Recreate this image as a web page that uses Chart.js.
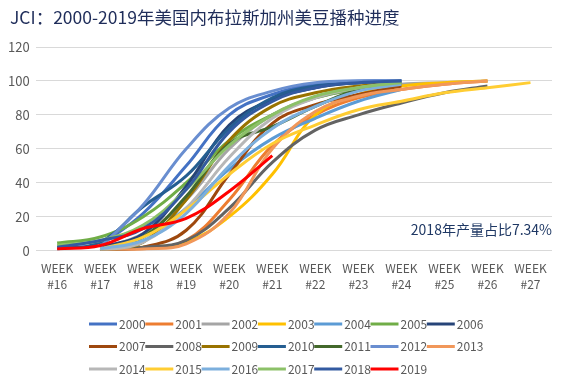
<!DOCTYPE html>
<html><head><meta charset="utf-8">
<script src="https://cdn.jsdelivr.net/npm/chart.js@4/dist/chart.umd.min.js"></script>
<style>html,body{margin:0;padding:0;background:#fff}#wrap{width:566px;height:385px;position:relative}</style>
</head><body><div id="wrap"><canvas id="c" width="566" height="385"></canvas></div>
<script>
const weeks = ['WEEK #16','WEEK #17','WEEK #18','WEEK #19','WEEK #20','WEEK #21','WEEK #22','WEEK #23','WEEK #24','WEEK #25','WEEK #26','WEEK #27'];
const years = ['2000','2001','2002','2003','2004','2005','2006','2007','2008','2009','2010','2011','2012','2013','2014','2015','2016','2017','2018','2019'];
const yTicks = [0, 20, 40, 60, 80, 100, 120];

const s2000 = [null, 3, 22, 50, 80, 92, 98, 100, 100, null, null, null];
const s2001 = [null, 0, 1, 6, 30, 62, 80, 90, 95, 98, 100, null];
const s2002 = [null, 1, 10, 30, 60, 80, 90, 95, 98, 99, 100, null];
const s2003 = [null, 0, 2, 5, 20, 45, 80, 92, 97, 99, 100, null];
const s2004 = [null, 1, 8, 25, 48, 66, 78, 88, 95, null, null, null];
const s2005 = [4.5, 8, 20, 40, 65, 80, 90, 95, 98, null, null, null];
const s2006 = [null, 2, 10, 38, 74, 89, 96, 99, 100, null, null, null];
const s2007 = [null, 0, 2, 12, 45, 75, 86, 92, 97, null, null, null];
const s2008 = [null, 0, 2, 6, 25, 52, 71, 80, 87, 93, 97, null];
const s2009 = [null, 0, 5, 30, 65, 85, 93, 97, 99, null, null, null];
const s2010 = [1, 5, 26, 44, 72, 90, 97, 99, 100, null, null, null];
const s2011 = [null, 0, 8, 32, 63, 73, 85, 95, 99, null, null, null];
const s2012 = [null, 2, 27, 60, 84, 94, 99, 100, 100, null, null, null];
const s2013 = [null, 0, 1, 4, 22, 60, 82, 91, 95, 98, 100, null];
const s2014 = [null, 0, 5, 25, 55, 78, 90, 96, 99, null, null, null];
const s2015 = [null, 1, 8, 24, 45, 63, 74, 83, 88, 93, 96, 99];
const s2016 = [null, 1, 6, 22, 50, 72, 85, 94, 98, null, null, null];
const s2017 = [3, 6, 15, 36, 62, 80, 91, 96, 99, null, null, null];
const s2018 = [2, 6, 13, 36, 70, 88, 96, 99, 100, null, null, null];
const s2019 = [1, 3, 13, 19, 35, 56, null, null, null, null, null, null];

const seriesValues = [s2000,s2001,s2002,s2003,s2004,s2005,s2006,s2007,s2008,s2009,s2010,s2011,s2012,s2013,s2014,s2015,s2016,s2017,s2018,s2019];
const colors = ['#4472C4','#ED7D31','#A5A5A5','#FFC000','#5B9BD5','#70AD47','#264478','#9E480E','#636363','#997300','#255E91','#43682B','#698ED0','#F1975A','#B7B7B7','#FFCD33','#7CAFDD','#8CC168','#335AA1','#FF0000'];

const titleText = 'JCI：2000-2019年美国内布拉斯加州美豆播种进度';
const noteText = '2018年产量占比7.34%';
const FONT = '"Noto Sans CJK SC", "Noto Sans", sans-serif';

const datasets = years.map((y, i) => ({
  label: y,
  data: seriesValues[i],
  borderColor: colors[i],
  backgroundColor: colors[i],
  borderWidth: 3,
  pointRadius: 0,
  tension: 0.4,
  fill: false,
  order: years.length - 1 - i
}));

const extrasPlugin = {
  id: 'extras',
  afterDraw(chart) {
    const ctx = chart.ctx;
    const area = chart.chartArea;
    ctx.save();
    ctx.font = '17.5px ' + FONT;
    ctx.fillStyle = '#1F2D5A';
    ctx.textBaseline = 'middle';
    ctx.textAlign = 'left';
    ctx.fillText(titleText, 10, 17);
    ctx.font = '14px ' + FONT;
    ctx.fillStyle = '#1F3864';
    ctx.textAlign = 'right';
    ctx.fillText(noteText, area.right, 230);
    const perRow = 7, x0 = 89, pitch = 56.3, y0 = 324, rowGap = 22.5;
    ctx.font = '12px ' + FONT;
    ctx.textAlign = 'left';
    chart.data.datasets.forEach((ds, i) => {
      const r = Math.floor(i / perRow), c = i % perRow;
      const x = x0 + c * pitch, y = y0 + r * rowGap;
      ctx.strokeStyle = ds.borderColor;
      ctx.lineWidth = 3;
      ctx.lineCap = 'butt';
      ctx.beginPath(); ctx.moveTo(x, y); ctx.lineTo(x + 28, y); ctx.stroke();
      ctx.fillStyle = '#595959';
      ctx.fillText(ds.label, x + 30, y);
    });
    ctx.restore();
  }
};

new Chart(document.getElementById('c'), {
  type: 'line',
  data: { labels: weeks, datasets },
  options: {
    responsive: false,
    devicePixelRatio: 1,
    animation: false,
    layout: { padding: { left: 2, right: 14, top: 47, bottom: 90 } },
    plugins: {
      legend: { display: false },
      title: { display: false },
      tooltip: { enabled: false }
    },
    scales: {
      x: {
        type: 'category',
        offset: true,
        grid: { display: false },
        border: { display: false },
        ticks: {
          color: '#595959',
          font: { family: FONT, size: 12, lineHeight: 1.35 },
          padding: 2,
          maxRotation: 0,
          autoSkip: false,
          callback: (v, i) => weeks[i].split(' ')
        }
      },
      y: {
        min: yTicks[0],
        max: yTicks[yTicks.length - 1],
        afterBuildTicks: (axis) => { axis.ticks = yTicks.map(v => ({ value: v })); },
        grid: { color: '#D9D9D9', drawTicks: false, lineWidth: 1 },
        border: { display: false },
        ticks: {
          color: '#595959',
          font: { family: FONT, size: 13 },
          padding: 6
        }
      }
    }
  },
  plugins: [extrasPlugin]
});
</script>
</body></html>
